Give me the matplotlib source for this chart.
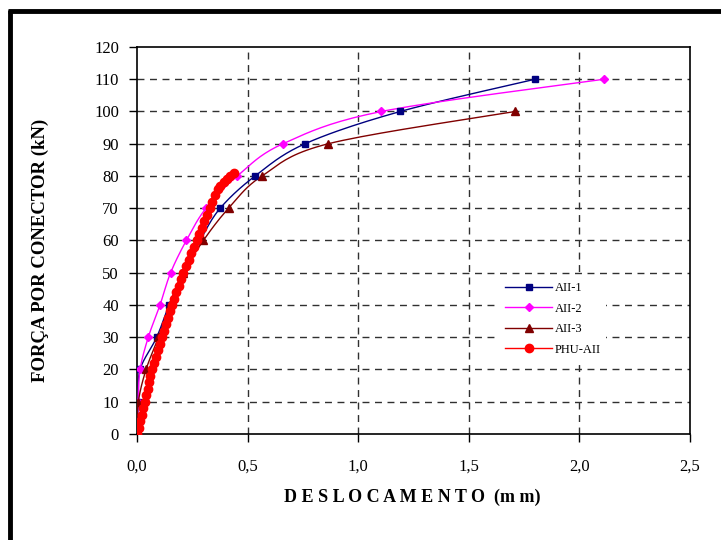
import matplotlib
matplotlib.use("Agg")
import matplotlib.pyplot as plt
import numpy as np
from matplotlib.lines import Line2D

plt.rcParams['font.family'] = ['Liberation Serif', 'DejaVu Serif']

# ---- data ----
aii1_x = [0.0, 0.006, 0.014, 0.089, 0.145, 0.207, 0.285, 0.376, 0.534, 0.76, 1.19, 1.80]
aii1_y = [0, 10, 20, 30, 40, 50, 60, 70, 80, 90, 100, 110]

aii2_x = [0.0, 0.005, 0.014, 0.051, 0.104, 0.152, 0.223, 0.312, 0.454, 0.66, 1.105, 2.11]
aii2_y = [0, 10, 20, 30, 40, 50, 60, 70, 80, 90, 100, 110]

aii3_x = [0.0, 0.006, 0.041, 0.097, 0.149, 0.21, 0.30, 0.414, 0.565, 0.865, 1.71]
aii3_y = [0, 10, 20, 30, 40, 50, 60, 70, 80, 90, 100]

phu_x = [0.000, 0.008, 0.015, 0.022, 0.029, 0.036, 0.042, 0.048, 0.055, 0.061,
         0.067, 0.076, 0.085, 0.094, 0.103, 0.112, 0.121, 0.130, 0.139, 0.148,
         0.157, 0.167, 0.178, 0.189, 0.199, 0.210, 0.222, 0.234, 0.246, 0.258,
         0.270, 0.282, 0.293, 0.305, 0.316, 0.328, 0.340, 0.352, 0.366, 0.376,
         0.392, 0.405, 0.421, 0.440]
phu_y = [0, 2, 4, 6, 8, 10, 12, 14, 16, 18,
         20, 22, 24, 26, 28, 30, 32, 34, 36, 38,
         40, 42, 44, 46, 48, 50, 52, 54, 56, 58,
         60, 62, 64, 66, 68, 70, 72, 74, 76, 77,
         78, 79, 80, 81]

x_ticks = [0.0, 0.5, 1.0, 1.5, 2.0, 2.5]
x_tick_labels = ['0,0', '0,5', '1,0', '1,5', '2,0', '2,5']
y_ticks = list(range(0, 121, 10))


def smooth(xs, ys, n=20):
    """Catmull-Rom path through the points (line drawing only)."""
    p = np.column_stack([xs, ys]).astype(float)
    p = np.vstack([p[0], p, p[-1]])
    out = []
    for i in range(1, len(p) - 2):
        p0, p1, p2, p3 = p[i - 1], p[i], p[i + 1], p[i + 2]
        t = np.linspace(0, 1, n, endpoint=False)[:, None]
        seg = 0.5 * ((2 * p1) + (-p0 + p2) * t + (2 * p0 - 5 * p1 + 4 * p2 - p3) * t ** 2
                     + (-p0 + 3 * p1 - 3 * p2 + p3) * t ** 3)
        out.append(seg)
    out.append(p[-2][None, :])
    s = np.vstack(out)
    return s[:, 0], s[:, 1]


fig = plt.figure(figsize=(7.21, 5.40), dpi=100)
ax = fig.add_axes([0.19, 0.1963, 0.767, 0.7167])

series = [
    (aii1_x, aii1_y, '#000080', 's', 5, 'AII-1'),
    (aii2_x, aii2_y, '#FF00FF', 'D', 4, 'AII-2'),
    (aii3_x, aii3_y, '#800000', '^', 6, 'AII-3'),
]
handles = []
for xs, ys, c, m, ms, lab in series:
    sx, sy = smooth(xs, ys)
    ax.plot(sx, sy, color=c, lw=1.0, zorder=3)
    ax.plot(xs, ys, ls='none', marker=m, ms=ms, color=c, zorder=4)
    handles.append(Line2D([], [], color=c, lw=1.0, marker=m, ms=ms, label=lab))

sx, sy = smooth(phu_x, phu_y, n=6)
ax.plot(sx, sy, color='#FF0000', lw=1.0, zorder=5)
ax.plot(phu_x, phu_y, ls='none', marker='o', ms=6, color='#FF0000', zorder=6)
handles.append(Line2D([], [], color='#FF0000', lw=1.0, marker='o', ms=6, label='PHU-AII'))

ax.set_xlim(0, 2.5)
ax.set_ylim(0, 120)
ax.set_xticks(x_ticks)
ax.set_xticklabels(x_tick_labels)
ax.set_yticks(y_ticks)
ax.tick_params(direction='out', length=6, width=1, labelsize=12)
ax.tick_params(axis='x', pad=12)
ax.tick_params(axis='y', pad=7)

for y in y_ticks[1:-1]:
    ax.axhline(y, color='#303030', lw=1.0, ls=(0, (5, 4)), zorder=1)
for x in x_ticks[1:-1]:
    ax.axvline(x, color='#303030', lw=1.0, ls=(0, (5, 4)), zorder=1)

for s in ax.spines.values():
    s.set_linewidth(1.2)
    s.set_color('black')

ax.set_xlabel('D E S L O C A M E N T O  (m m)', fontsize=13, fontweight='bold')
ax.set_ylabel('FORÇA POR CONECTOR (kN)', fontsize=13.5, fontweight='bold')
ax.xaxis.set_label_coords(0.497, -0.142)
ax.yaxis.set_label_coords(-0.159, 0.475)

leg = ax.legend(handles=handles, loc='center left', bbox_to_anchor=(0.656, 0.297),
                frameon=True, facecolor='white', edgecolor='none', framealpha=1.0,
                fancybox=False, fontsize=9, handlelength=3.8, labelspacing=0.68,
                handletextpad=0.2, borderaxespad=0, borderpad=0.4)
leg.set_zorder(10)

# thick frame (left and top edges)
fig.add_artist(Line2D([0.0139, 0.0139], [0, 0.982], transform=fig.transFigure,
                      color='black', lw=3.5, solid_capstyle='butt'))
fig.add_artist(Line2D([0.0115, 1.0], [0.980, 0.980], transform=fig.transFigure,
                      color='black', lw=3.5, solid_capstyle='butt'))

fig.savefig('out.png', dpi=100)
